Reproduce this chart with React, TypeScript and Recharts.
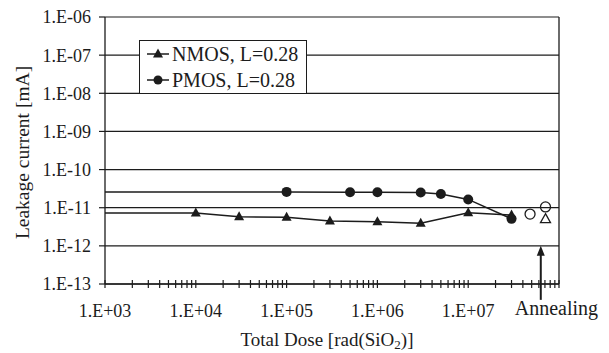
import React from 'react';
import { ScatterChart, Scatter, XAxis, YAxis, CartesianGrid, ReferenceLine, Legend } from 'recharts';

// dose axis [rad(SiO2)], first point of each series is the pre-rad value drawn from the axis
const nmosDose = [1e3, 1e4, 3e4, 1e5, 3e5, 1e6, 3e6, 1e7, 3e7];
const nmosLeak = [7.3e-12, 7.3e-12, 5.8e-12, 5.6e-12, 4.5e-12, 4.3e-12, 3.9e-12, 7.4e-12, 6.4e-12];

const pmosDose = [1e3, 1e5, 5e5, 1e6, 3e6, 5e6, 1e7, 3e7];
const pmosLeak = [2.6e-11, 2.6e-11, 2.55e-11, 2.55e-11, 2.5e-11, 2.3e-11, 1.65e-11, 5.1e-12];

// after annealing (open markers)
const nmosAnnealDose = [7.1e7];
const nmosAnnealLeak = [5e-12];
const pmosAnnealDose = [4.8e7, 7.1e7];
const pmosAnnealLeak = [6.8e-12, 1.05e-11];

const annealingDose = 6.3e7;
const annealingLeak = 1e-12;

const yTicks = [1e-13, 1e-12, 1e-11, 1e-10, 1e-9, 1e-8, 1e-7, 1e-6];
const xDecades = [1e3, 1e4, 1e5, 1e6, 1e7];
const xMinor = [1, 2, 3, 4, 5, 6, 7, 8, 9];
const xTicks = [...xDecades.flatMap((d) => xMinor.map((m) => m * d)), 1e8];

const ink = '#1c1c1c';
const serif = '"Liberation Serif", "DejaVu Serif", serif';

const toPoints = (xs: number[], ys: number[]) =>
  xs.map((x, i) => ({ x, y: ys[i], pre: i === 0 && x === 1e3 }));

const nmos = toPoints(nmosDose, nmosLeak);
const pmos = toPoints(pmosDose, pmosLeak);
const nmosAnneal = nmosAnnealDose.map((x, i) => ({ x, y: nmosAnnealLeak[i] }));
const pmosAnneal = pmosAnnealDose.map((x, i) => ({ x, y: pmosAnnealLeak[i] }));
const arrow = [{ x: annealingDose, y: annealingLeak }];

const fmtY = (v: number) => {
  const e = Math.round(Math.log10(v));
  return `1.E-${String(-e).padStart(2, '0')}`;
};

const Triangle = (props: any) => {
  const { cx, cy, payload } = props;
  if (payload?.pre) return <g />;
  return <polygon points={`${cx},${cy - 5.5} ${cx - 5},${cy + 3.5} ${cx + 5},${cy + 3.5}`} fill={ink} />;
};

const Dot = (props: any) => {
  const { cx, cy, payload } = props;
  if (payload?.pre) return <g />;
  return <circle cx={cx} cy={cy} r={5} fill={ink} />;
};

const OpenDot = (props: any) => (
  <circle cx={props.cx} cy={props.cy} r={5} fill="none" stroke={ink} strokeWidth={1.3} />
);

const OpenTriangle = (props: any) => {
  const { cx, cy } = props;
  return (
    <polygon
      points={`${cx},${cy - 5.5} ${cx - 5},${cy + 3.5} ${cx + 5},${cy + 3.5}`}
      fill="none"
      stroke={ink}
      strokeWidth={1.3}
    />
  );
};

const Arrow = (props: any) => {
  const { cx, cy } = props;
  return (
    <g>
      <line x1={cx} y1={cy + 6} x2={cx} y2={cy + 54} stroke={ink} strokeWidth={2} />
      <polygon points={`${cx},${cy} ${cx - 4},${cy + 10} ${cx + 4},${cy + 10}`} fill={ink} />
      <text x={cx - 26} y={cy + 69} fontFamily={serif} fontSize={20} fill={ink}>
        Annealing
      </text>
    </g>
  );
};

const XTick = (props: any) => {
  const { x, y, payload } = props;
  const v = payload.value;
  const major = xDecades.some((d) => Math.abs(d - v) < 1e-6 * d);
  return (
    <g>
      <line x1={x} y1={y - 4} x2={x} y2={y + 4} stroke={ink} strokeWidth={1.2} />
      {major && (
        <text x={x} y={y + 33} textAnchor="middle" fontFamily={serif} fontSize={18} fill={ink}>
          {`1.E+${String(Math.round(Math.log10(v))).padStart(2, '0')}`}
        </text>
      )}
    </g>
  );
};

const LegendBox = () => {
  const row = (label: string, marker: React.ReactNode) => (
    <div style={{ display: 'flex', alignItems: 'center', height: 26 }}>
      <svg width={27} height={14} style={{ marginLeft: 5 }}>
        <line x1={2} y1={7} x2={24} y2={7} stroke={ink} strokeWidth={1.5} />
        {marker}
      </svg>
      <span style={{ fontFamily: serif, fontSize: 20, color: ink, marginLeft: 0, lineHeight: '26px', whiteSpace: 'nowrap' }}>
        {label}
      </span>
    </div>
  );
  return (
    <div
      style={{
        boxSizing: 'border-box',
        width: 168,
        height: 54,
        border: `1.3px solid ${ink}`,
        background: '#fff',
        paddingTop: 0,
      }}
    >
      {row('NMOS, L=0.28', <polygon points="13,1.5 8,10.5 18,10.5" fill={ink} />)}
      {row('PMOS, L=0.28', <circle cx={13} cy={7} r={4.5} fill={ink} />)}
    </div>
  );
};

export default function App() {
  return (
    <div style={{ width: 609, height: 353, background: '#fff' }}>
      <style>{'body{margin:0}'}</style>
      <ScatterChart width={609} height={353} margin={{ top: 17, right: 50, bottom: 0, left: 0 }}>
        <CartesianGrid vertical={false} stroke={ink} strokeWidth={1.2} />
        <XAxis
          dataKey="x"
          type="number"
          scale="log"
          domain={[1e3, 1e8]}
          ticks={xTicks}
          interval={0}
          height={69}
          tickSize={0}
          tickMargin={0}
          tickLine={false}
          tick={<XTick />}
          axisLine={{ stroke: ink, strokeWidth: 1.3 }}
          label={{
            content: (p: any) => {
              const vb = p.viewBox;
              return (
                <text
                  x={vb.x + vb.width / 2 - 5}
                  y={vb.y + 62}
                  textAnchor="middle"
                  fontFamily={serif}
                  fontSize={19}
                  fill={ink}
                >
                  Total Dose [rad(SiO<tspan fontSize={13} dy={3}>2</tspan>
                  <tspan dy={-3}>)]</tspan>
                </text>
              );
            },
          }}
        />
        <YAxis
          dataKey="y"
          type="number"
          scale="log"
          domain={[1e-13, 1e-6]}
          ticks={yTicks}
          interval={0}
          width={105}
          tickSize={6}
          tickMargin={8}
          tickFormatter={fmtY}
          tick={{ fontFamily: serif, fontSize: 18, fill: ink }}
          tickLine={{ stroke: ink, strokeWidth: 1.2 }}
          axisLine={{ stroke: ink, strokeWidth: 1.3 }}
          label={{
            content: (p: any) => {
              const vb = p.viewBox;
              const cx = vb.x + 22;
              const cy = vb.y + vb.height / 2 + 2;
              return (
                <text
                  x={cx}
                  y={cy}
                  transform={`rotate(-90 ${cx} ${cy})`}
                  textAnchor="middle"
                  dominantBaseline="central"
                  fontFamily={serif}
                  fontSize={19.5}
                  fill={ink}
                >
                  Leakage current [mA]
                </text>
              );
            },
          }}
        />
        <ReferenceLine x={1e8} stroke={ink} strokeWidth={1.3} />
        <Legend
          layout="vertical"
          align="center"
          verticalAlign="middle"
          content={() => <LegendBox />}
          wrapperStyle={{ left: 139, top: 40, width: 168, height: 54 }}
        />
        <Scatter
          name="NMOS, L=0.28"
          data={nmos}
          line={{ stroke: ink, strokeWidth: 1.5 }}
          lineType="joint"
          shape={<Triangle />}
          isAnimationActive={false}
        />
        <Scatter
          name="PMOS, L=0.28"
          data={pmos}
          line={{ stroke: ink, strokeWidth: 1.5 }}
          lineType="joint"
          shape={<Dot />}
          isAnimationActive={false}
        />
        <Scatter data={nmosAnneal} shape={<OpenTriangle />} legendType="none" isAnimationActive={false} />
        <Scatter data={pmosAnneal} shape={<OpenDot />} legendType="none" isAnimationActive={false} />
        <Scatter data={arrow} shape={<Arrow />} legendType="none" isAnimationActive={false} />
      </ScatterChart>
    </div>
  );
}
